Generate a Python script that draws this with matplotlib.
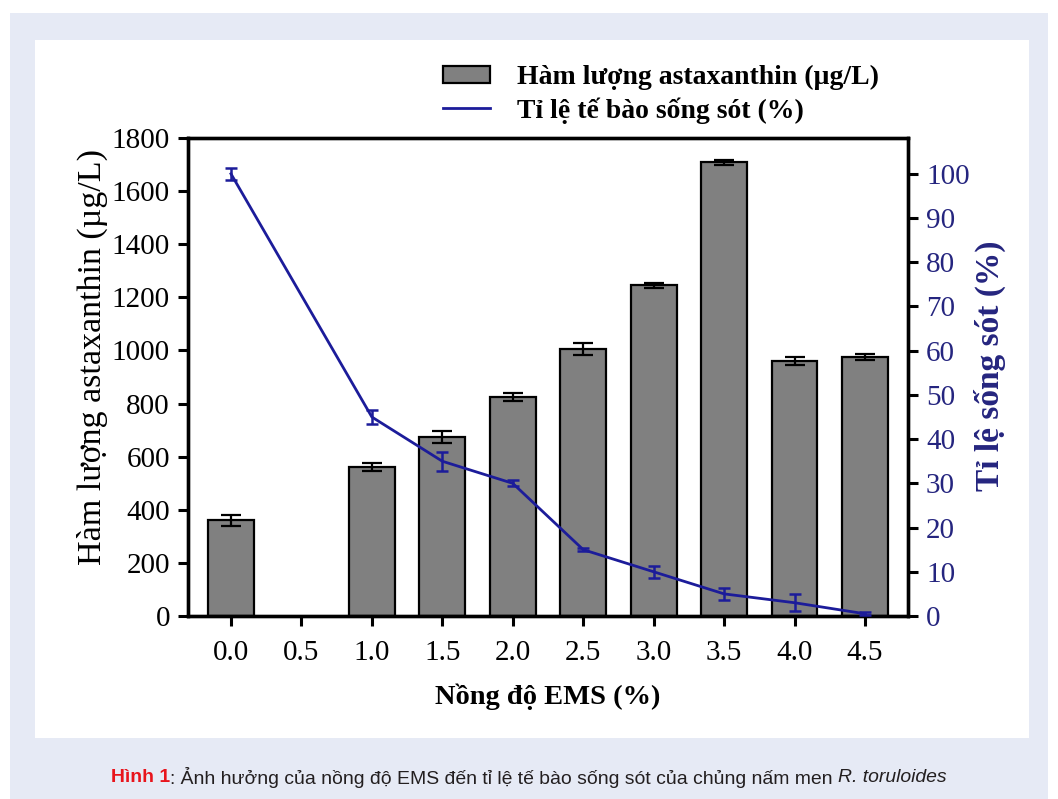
import matplotlib
matplotlib.use("Agg")
import matplotlib.pyplot as plt
from matplotlib.patches import Rectangle, Patch
from matplotlib.lines import Line2D
import numpy as np

# ---- data ----
categories = ["0.0", "0.5", "1.0", "1.5", "2.0", "2.5", "3.0", "3.5", "4.0", "4.5"]
astaxanthin = [360, None, 560, 675, 825, 1005, 1245, 1708, 962, 975]
astaxanthin_err = [22, None, 15, 22, 15, 22, 10, 10, 15, 12]
survival = [100, None, 45, 35, 30, 15, 10, 5, 3, 0.5]
survival_err = [1.4, None, 1.6, 2.2, 0.7, 0.4, 1.4, 1.4, 1.9, 0.3]
left_ticks = [0, 200, 400, 600, 800, 1000, 1200, 1400, 1600, 1800]
right_ticks = [0, 10, 20, 30, 40, 50, 60, 70, 80, 90, 100]

SERIF = ["Liberation Serif", "DejaVu Serif"]
NAVY = "#1c1c9a"
NAVY_TXT = "#25257f"

fig = plt.figure(figsize=(10.58, 7.99), dpi=100)
fig.patch.set_facecolor("white")
W, H = 1058, 799
def box(x0, y0, x1, y1, color):
    fig.patches.append(Rectangle((x0 / W, 1 - y1 / H), (x1 - x0) / W, (y1 - y0) / H,
                                 transform=fig.transFigure, facecolor=color,
                                 edgecolor="none", zorder=-10))
box(10, 13, 1048, 799, "#e6eaf5")
box(35, 40, 1029, 738, "white")

ax = fig.add_axes([188 / W, 1 - 616 / H, (908 - 188) / W, (616 - 138) / H])
ax.set_facecolor("none")
x = np.arange(len(categories))
bx = [i for i, v in enumerate(astaxanthin) if v is not None]
bv = [astaxanthin[i] for i in bx]
be = [astaxanthin_err[i] for i in bx]
ax.bar(bx, bv, width=0.65, color="#808080", edgecolor="black", linewidth=1.6, zorder=2)
ax.errorbar(bx, bv, yerr=be, fmt="none", ecolor="black", elinewidth=1.6,
            capsize=7, capthick=1.6, zorder=3)
ax.set_xlim(-0.61, len(categories) - 1 + 0.61)
ax.set_ylim(0, 1800)
ax.set_yticks(left_ticks)
ax.set_xticks(x)
ax.set_xticklabels(categories)
for s in ax.spines.values():
    s.set_linewidth(2.4)
ax.tick_params(axis="both", direction="out", length=7, width=2.2, labelsize=21, pad=6)
ax.tick_params(axis="x", pad=10)
for lab in ax.get_xticklabels() + ax.get_yticklabels():
    lab.set_fontfamily(SERIF)
ax.set_ylabel("Hàm lượng astaxanthin (µg/L)", fontsize=24.5, family=SERIF)
ax.yaxis.set_label_coords((92 - 188) / 720, (616 - 357) / 478)
ax.yaxis.label.set_va("center")
ax.set_xlabel("Nồng độ EMS (%)", fontsize=20.5, family=SERIF, fontweight="bold", labelpad=13)

ax2 = ax.twinx()
lx = [i for i, v in enumerate(survival) if v is not None]
lv = [survival[i] for i in lx]
le = [survival_err[i] for i in lx]
ax2.errorbar(lx, lv, yerr=le, color=NAVY, linewidth=2.0, elinewidth=1.8,
             capsize=4, capthick=1.8, zorder=4)
ax2.set_ylim(0, 108.1)
ax2.set_yticks(right_ticks)
ax2.tick_params(axis="y", direction="out", length=7, width=2.2, labelsize=21,
                labelcolor=NAVY_TXT, pad=6)
for lab in ax2.get_yticklabels():
    lab.set_fontfamily(SERIF)
for s in ax2.spines.values():
    s.set_linewidth(2.4)
ax2.set_ylabel("Tỉ lệ sống sót (%)", fontsize=24, family=SERIF, fontweight="bold",
               color=NAVY_TXT)
ax2.yaxis.set_label_coords((990 - 188) / 720, (616 - 366) / 478)
ax2.yaxis.label.set_va("center")

handles = [Patch(facecolor="#808080", edgecolor="black", linewidth=1.6),
           Line2D([0], [0], color=NAVY, linewidth=2.0)]
labels = ["Hàm lượng astaxanthin (µg/L)", "Tỉ lệ tế bào sống sót (%)"]
fig.legend(handles, labels, loc="upper left", bbox_to_anchor=(418 / W, 1 - 40 / H),
           frameon=False, prop={"family": SERIF, "size": 20, "weight": "bold"},
           handlelength=1.7, handleheight=0.6, handletextpad=0.95, labelspacing=0.25)

# caption
CAP = ["Liberation Sans", "DejaVu Sans"]
fig.canvas.draw()
r = fig.canvas.get_renderer()
ycap = 1 - 777 / H
def make_caption(fs):
    t1 = fig.text(111 / W, ycap, "Hình 1", color="#e8141c", fontsize=fs,
                  fontweight="bold", family=CAP, va="center", ha="left")
    bb = t1.get_window_extent(r)
    t2 = fig.text(bb.x1 / fig.bbox.width, ycap,
                  ": Ảnh hưởng của nồng độ EMS đến tỉ lệ tế bào sống sót của chủng nấm men ",
                  color="#231f20", fontsize=fs, family=CAP, va="center", ha="left")
    bb2 = t2.get_window_extent(r)
    t3 = fig.text(bb2.x1 / fig.bbox.width, ycap, "R. toruloides", color="#231f20",
                  fontsize=fs, family=CAP, style="italic", va="center", ha="left")
    return [t1, t2, t3]
texts = make_caption(14)
right = texts[2].get_window_extent(r).x1
fs = 14 * (951 - 111) / (right - 111)
for t in texts:
    t.remove()
make_caption(fs)

fig.savefig("out.png", dpi=100)
